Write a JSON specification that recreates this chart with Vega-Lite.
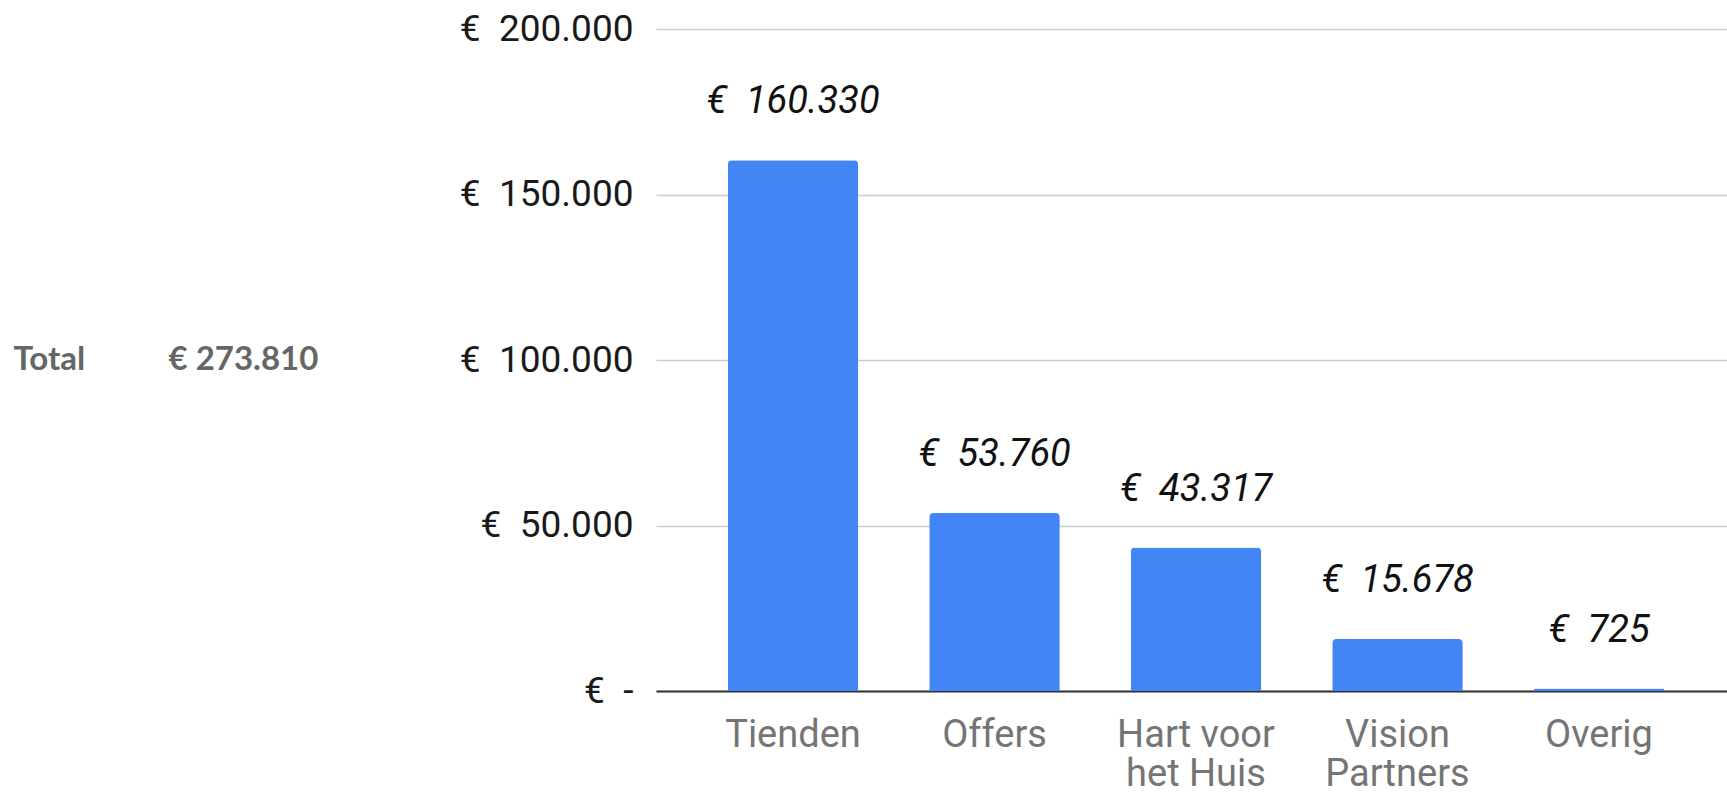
{
  "$schema": "https://vega.github.io/schema/vega-lite/v6.json",
  "width": 1080,
  "height": 662,
  "autosize": {"type": "none"},
  "padding": {"left": 656, "top": 29, "right": -9, "bottom": 104},
  "background": "white",
  "data": {
    "values": [
      {"category": "Tienden", "value": 160330},
      {"category": "Offers", "value": 53760},
      {"category": "Hart voor het Huis", "value": 43317},
      {"category": "Vision Partners", "value": 15678},
      {"category": "Overig", "value": 725}
    ]
  },
  "config": {
    "view": {"stroke": null},
    "axis": {"font": "Roboto"}
  },
  "encoding": {
    "x": {
      "field": "category",
      "type": "nominal",
      "sort": null,
      "scale": {"paddingInner": 0.352, "paddingOuter": 0.356},
      "axis": {
        "title": "€ 273.810",
        "titleFont": "Lato",
        "titleFontWeight": "bold",
        "titleFontSize": 33,
        "titleColor": "#666666",
        "titleAngle": 0,
        "titleAlign": "left",
        "titleBaseline": "alphabetic",
        "titleAnchor": null,
        "titleX": -488,
        "titleY": -322,
        "labelAngle": 0,
        "labelFont": "Roboto",
        "labelFontSize": 38,
        "labelColor": "#757575",
        "labelPadding": 25,
        "labelLineHeight": 39,
        "labelBaseline": "top",
        "ticks": false,
        "domain": true,
        "domainColor": "#333333",
        "domainWidth": 2,
        "labelExpr": "datum.value == 'Hart voor het Huis' ? ['Hart voor', 'het Huis'] : datum.value == 'Vision Partners' ? ['Vision', 'Partners'] : datum.value"
      }
    },
    "y": {
      "field": "value",
      "type": "quantitative",
      "scale": {"domain": [0, 200000], "nice": false},
      "axis": {
        "values": [0, 50000, 100000, 150000, 200000],
        "title": "Total",
        "titleFont": "Lato",
        "titleFontWeight": "bold",
        "titleFontSize": 33,
        "titleColor": "#666666",
        "titleAngle": 0,
        "titleAlign": "left",
        "titleBaseline": "alphabetic",
        "titleAnchor": null,
        "titleX": -643,
        "titleY": 340,
        "labelFont": "Roboto",
        "labelFontSize": 37,
        "labelColor": "#1a1a1a",
        "labelPadding": 23,
        "ticks": false,
        "domain": false,
        "grid": true,
        "gridColor": "#cccccc",
        "gridWidth": 1.3,
        "labelExpr": "datum.value == 0 ? '€\u00a0\u00a0-' : '€\u00a0\u00a0' + replace(format(datum.value, ','), regexp(',', 'g'), '.')"
      }
    }
  },
  "layer": [
    {
      "mark": {"type": "bar", "color": "#4285F4", "cornerRadiusTopLeft": 4, "cornerRadiusTopRight": 4}
    },
    {
      "mark": {
        "type": "text",
        "font": "Roboto",
        "fontSize": 38,
        "fontStyle": "italic",
        "color": "#111111",
        "baseline": "alphabetic",
        "align": "center",
        "dy": -47,
        "text": {"expr": "'€\u00a0\u00a0' + replace(format(datum.value, ','), regexp(',', 'g'), '.')"}
      }
    }
  ]
}
